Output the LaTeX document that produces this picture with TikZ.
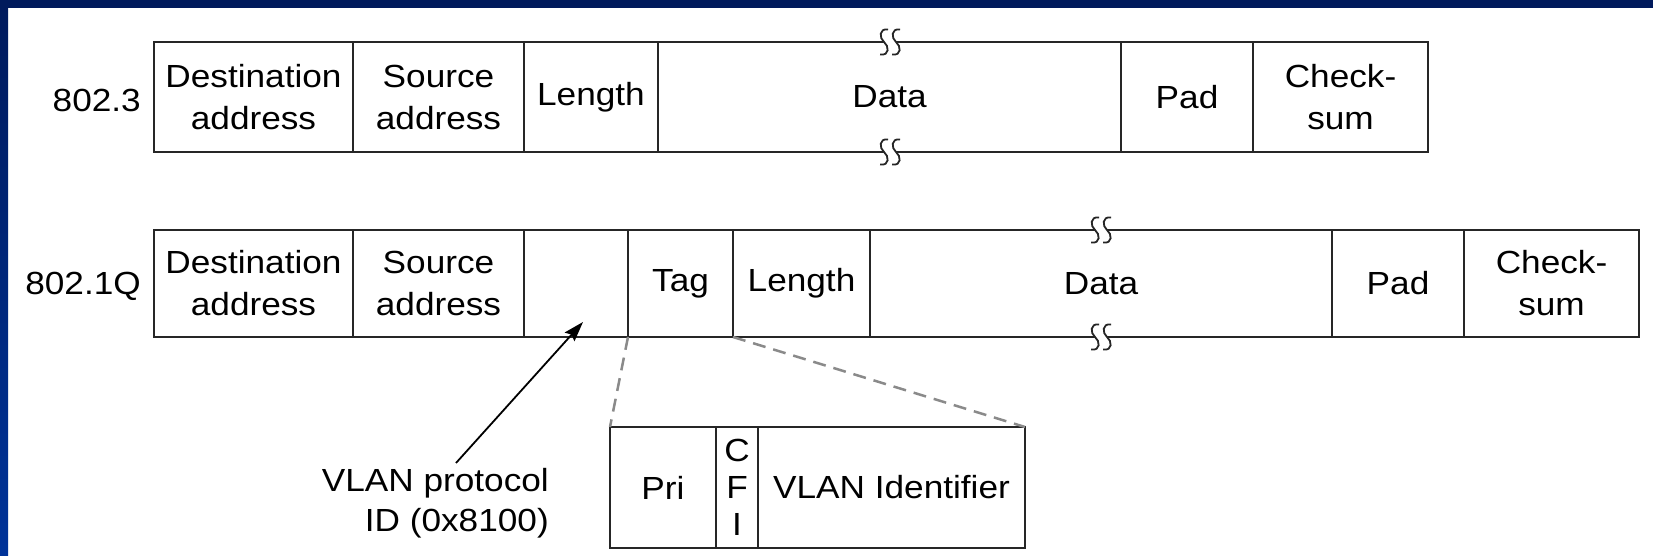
\documentclass[tikz,border=0pt]{standalone}
\usepackage{fontspec}
\setmainfont{Liberation Sans}[FakeStretch=1.1]
\usetikzlibrary{arrows.meta}
\definecolor{navy}{HTML}{001A5C}
\definecolor{slideblue}{HTML}{003399}
\definecolor{dashgray}{HTML}{8A8A8A}
\newcommand\fldfont{\fontsize{32}{42}\selectfont}
\begin{document}
\begin{tikzpicture}[x=1pt,y=-1pt,
  fld/.style={draw=black!85, line width=2pt, inner sep=0pt, outer sep=0pt,
    align=center, font=\fldfont, text=black},
  rowa/.style={fld, minimum height=110pt},
  rowb/.style={fld, minimum height=107pt},
  rowc/.style={fld, minimum height=121pt},
  lbl/.style={inner sep=0pt, font=\fldfont, text=black},
  gdash/.style={draw=dashgray, line width=2.5pt, dash pattern=on 13pt off 8pt},
  brkline/.style={draw=black!85, line width=1.8pt},
  brk/.pic={
    \fill[white] (-6,-2.5) rectangle (6,2.5);
    \draw[brkline] (-2,-12.5) .. controls (-11,-14) and (-11,-4) .. (-6,0)
                   .. controls (-1,4) and (0,14) .. (-10,12.5);
    \draw[brkline] (10,-12.5) .. controls (1,-14) and (1,-4) .. (6,0)
                   .. controls (11,4) and (12,14) .. (2,12.5);
  }]
\useasboundingbox (0,0) rectangle (1653,556);
\fill[white] (0,0) rectangle (1653,556);
\shade[top color=navy, bottom color=slideblue] (0,0) rectangle (8,556);
\fill[navy] (0,0) rectangle (1653,8);

% 802.3
\node[lbl, anchor=east] (l1) at (141,100) {802.3};
\node[rowa, minimum width=199pt] (a1) at (253.5,97) {Destination\\address};
\node[rowa, minimum width=171pt] (a2) at (438.5,97) {Source\\address};
\node[rowa, minimum width=134pt] (a3) at (591,97) {Length};
\node[rowa, minimum width=463pt] (a4) at (889.5,97) {Data};
\node[rowa, minimum width=132pt] (a5) at (1187,97) {Pad};
\node[rowa, minimum width=175pt] (a6) at (1340.5,97) {Check-\\sum};
\pic at (890,42) {brk};
\pic at (890,152) {brk};

% 802.1Q
\node[lbl, anchor=east] (l2) at (141,286) {802.1Q};
\node[rowb, minimum width=199pt] (b1) at (253.5,283.5) {Destination\\address};
\node[rowb, minimum width=171pt] (b2) at (438.5,283.5) {Source\\address};
\node[rowb, minimum width=104pt] (b3) at (576,283.5) {};
\node[rowb, minimum width=105pt] (b4) at (680.5,283.5) {Tag};
\node[rowb, minimum width=137pt] (b5) at (801.5,283.5) {Length};
\node[rowb, minimum width=462pt] (b6) at (1101,283.5) {Data};
\node[rowb, minimum width=132pt] (b7) at (1398,283.5) {Pad};
\node[rowb, minimum width=175pt] (b8) at (1551.5,283.5) {Check-\\sum};
\pic at (1101,230) {brk};
\pic at (1101,337) {brk};

% tag detail
\node[rowc, minimum width=106pt] (c1) at (663,487.5) {Pri};
\node[rowc, minimum width=42pt, font=\fontsize{32}{37}\selectfont] (c2) at (737,487.5) {C\\F\\I};
\node[rowc, minimum width=267pt] (c3) at (891.5,487.5) {VLAN Identifier};
\draw[gdash] (b4.south west) -- (c1.north west);
\draw[gdash] (b4.south east) -- (c3.north east);

% VLAN protocol ID
\node[lbl, anchor=east, align=right, font=\fontsize{32}{40}\selectfont] (vp) at (549,503) {VLAN protocol\\ID (0x8100)};
\coordinate (atail) at (456,463);
\coordinate (atip) at (583,322);
\draw[line width=1.8pt, -{Stealth[length=20pt,width=13pt,inset=3pt]}] (atail) -- (atip);
\end{tikzpicture}
\end{document}
